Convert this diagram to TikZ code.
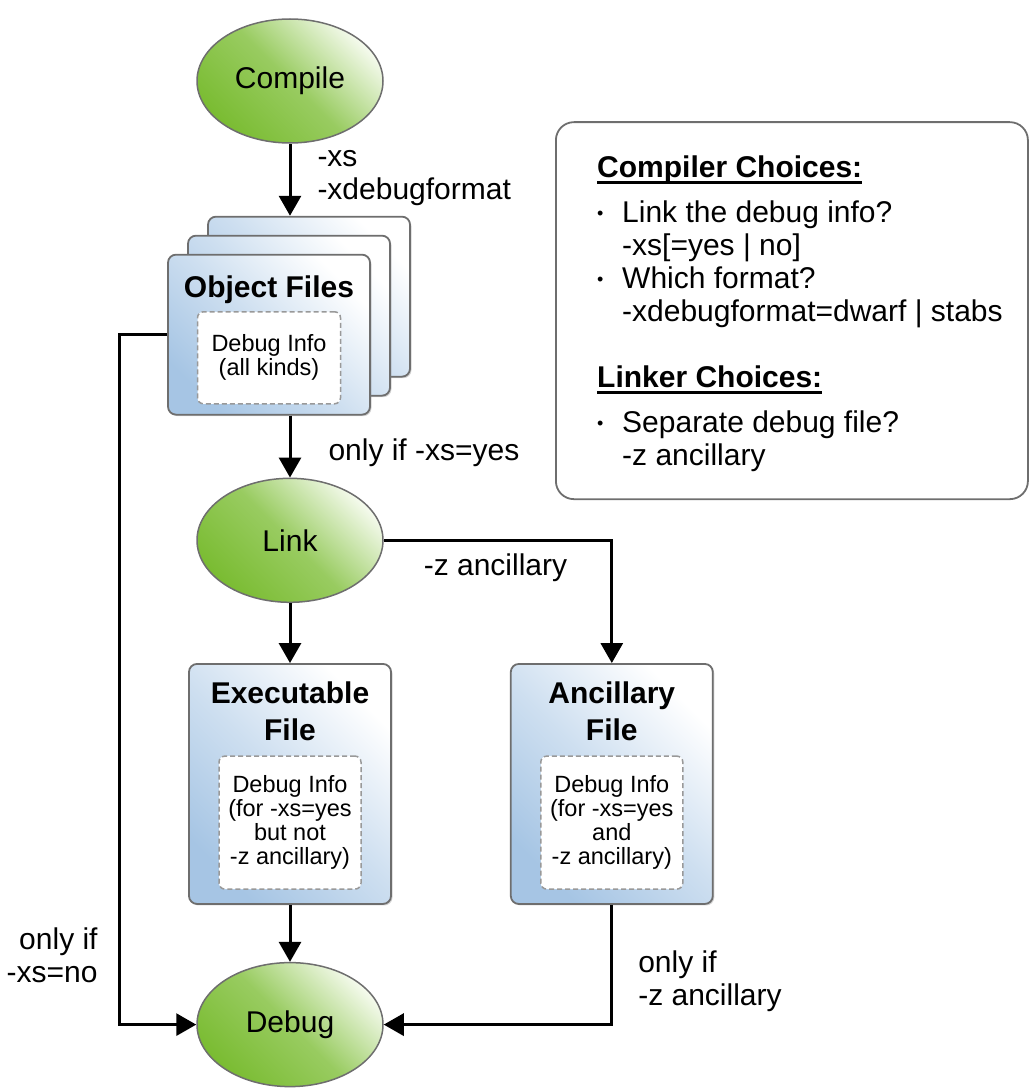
\documentclass[tikz,border=0pt]{standalone}
\usepackage{fontspec}
\setmainfont{Liberation Sans}
\usetikzlibrary{positioning}
\usetikzlibrary{arrows.meta}
\usetikzlibrary{shapes.geometric}
\usetikzlibrary{shadows}

\definecolor{leafgreen}{RGB}{122,188,50}
\definecolor{leaflight}{RGB}{244,250,236}
\definecolor{fileblue}{RGB}{166,197,228}
\definecolor{edgegray}{RGB}{110,110,110}

\newcommand{\lbul}{\makebox[25pt][l]{\raisebox{3pt}{\fontsize{18}{18}\selectfont •}}}

\tikzset{
  stage/.style={ellipse, draw=edgegray, line width=1.5pt, inner sep=0pt,
    minimum width=186pt, minimum height=124pt,
    bottom color=leafgreen, top color=leaflight, middle color=leafgreen!75!leaflight,
    shading angle=-45, font=\fontsize{30}{34}\selectfont},
  filebox/.style={draw=edgegray, line width=1.8pt, rounded corners=8pt, inner sep=0pt,
    minimum width=202pt, minimum height=160pt,
    bottom color=fileblue, top color=white, middle color=fileblue!55!white,
    shading angle=-45,
    drop shadow={shadow xshift=1.5pt, shadow yshift=-1.5pt, opacity=.35}},
  boxtitle/.style={inner sep=0pt, align=center, font=\fontsize{30}{37}\selectfont\bfseries},
  infobox/.style={draw=gray!80, fill=white, dashed, dash pattern=on 5pt off 3pt,
    line width=1.5pt, rounded corners=6pt, inner sep=0pt, align=center,
    minimum width=142pt, font=\fontsize{23.5}{24}\selectfont},
  lbl/.style={inner sep=0pt, font=\fontsize{30}{33}\selectfont},
  arr/.style={line width=3pt, -{Triangle[width=22pt,length=20pt]}},
  legendbox/.style={draw=edgegray, line width=1.8pt, rounded corners=18pt,
    minimum width=472pt, minimum height=377pt, inner sep=0pt},
  head/.style={inner sep=0pt, font=\fontsize{30}{33}\selectfont\bfseries},
  uline/.style={line width=3pt}
}

\begin{document}
\begin{tikzpicture}[x=1pt,y=1pt]
  \path[use as bounding box] (0,0) rectangle (1029,-1089);

  \node[stage] (compile) at (290,-81) {Compile};

  % stack of object files
  \node[filebox, below=72pt of compile, xshift=19pt] (objc) {};
  \node[filebox] (objb) at ([shift={(-20pt,-19pt)}]objc) {};
  \node[filebox] (objf) at ([shift={(-20pt,-19pt)}]objb) {};
  \node[boxtitle, below=22pt of objf.north] (objtitle) {Object Files};
  \node[infobox, minimum height=92pt, minimum width=143pt, above=11pt of objf.south] (objinfo) {Debug Info\\(all kinds)};

  \node[stage, below=62pt of objf, xshift=21pt] (link) {Link};

  \node[filebox, minimum height=240pt, below=60pt of link] (exe) {};
  \node[boxtitle, below=19pt of exe.north] (exetitle) {Executable\\File};
  \node[infobox, minimum height=133pt, above=15pt of exe.south] (exeinfo) {Debug Info\\(for -xs=yes\\but not\\-z ancillary)};

  \node[filebox, minimum height=240pt, right=118pt of exe] (anc) {};
  \node[boxtitle, below=19pt of anc.north] (anctitle) {Ancillary\\File};
  \node[infobox, minimum height=133pt, above=15pt of anc.south] (ancinfo) {Debug Info\\(for -xs=yes\\and\\-z ancillary)};

  \node[stage, below=57pt of exe] (debug) {Debug};

  % legend
  \node[legendbox, anchor=north west] (legend) at ([shift={(265pt,-103pt)}]compile.north) {};
  \node[head, anchor=base west] (cch) at ([shift={(42pt,-56pt)}]legend.north west) {Compiler Choices:};
  \node[lbl, align=left, below right=23pt and 0pt of cch.base west] (cchitems)
    {\lbul Link the debug info?\\\hspace*{25pt}-xs[=yes | no]\\\lbul Which format?\\\hspace*{25pt}-xdebugformat=dwarf | stabs};
  \node[head, anchor=base west] (lch) at ([shift={(42pt,-266pt)}]legend.north west) {Linker Choices:};
  \node[lbl, align=left, below right=23pt and 0pt of lch.base west] (lchitems)
    {\lbul Separate debug file?\\\hspace*{25pt}-z ancillary};
  \draw[uline] ([yshift=-5pt]cch.base west) -- ([yshift=-5pt]cch.base east);
  \draw[uline] ([yshift=-5pt]lch.base west) -- ([yshift=-5pt]lch.base east);

  % connectors
  \draw[arr] (compile) -- (objc.north -| compile)
    node[lbl, pos=0.47, right=26pt, align=left] {-xs\\-xdebugformat};
  \draw[arr] (objf.south -| link) -- (link)
    node[lbl, pos=0.6, right=37pt] {only if -xs=yes};
  \draw[arr] (link.east) -| (anc)
    node[lbl, pos=0.245, below=12pt] {-z ancillary};
  \draw[arr] (link) -- (exe);
  \draw[arr] (exe) -- (debug);
  \draw[arr] (objf.west) -- ++(-48pt,0) |- (debug.west)
    node[lbl, pos=0.45, left=20pt, align=right] {only if\\-xs=no};
  \draw[arr] (anc) |- (debug)
    node[lbl, pos=0.32, right=25pt, align=left] {only if\\-z ancillary};
\end{tikzpicture}
\end{document}
